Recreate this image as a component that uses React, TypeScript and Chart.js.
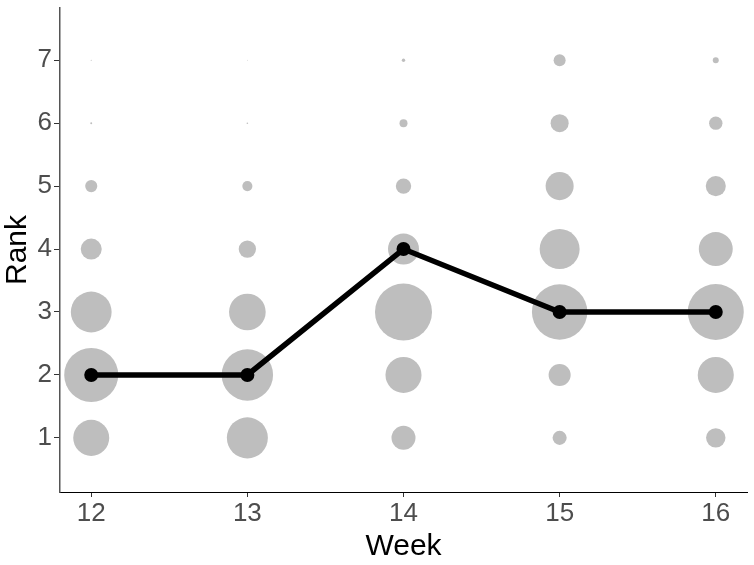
import React, { useEffect, useRef } from "react";
import { Chart, registerables } from "chart.js";

Chart.register(...registerables);

const weeks = [12, 13, 14, 15, 16];
const ranks = [1, 2, 3, 4, 5, 6, 7];
// share (%) of each rank per week, cols = ranks 1..7
const share12 = [20.3, 45.6, 26.0, 6.9, 2.3, 0.06, 0.02];
const share13 = [26.3, 41.3, 21.0, 4.7, 1.6, 0.04, 0.01];
const share14 = [9.0, 20.3, 50.8, 15.0, 3.7, 1.0, 0.18];
const share15 = [3.1, 7.6, 48.0, 25.0, 12.3, 5.1, 2.25];
const share16 = [5.9, 20.3, 49.0, 18.0, 6.3, 2.8, 0.56];
const shares = [share12, share13, share14, share15, share16];
const medianRank = [2, 2, 4, 3, 3];
const xTicks = [12, 13, 14, 15, 16];
const yTicks = [1, 2, 3, 4, 5, 6, 7];

export default function App() {
  const ref = useRef<HTMLCanvasElement>(null);
  useEffect(() => {
    if (!ref.current) return;
    const bubbles: { x: number; y: number; r: number }[] = [];
    weeks.forEach((w, i) => {
      ranks.forEach((rk, j) => {
        bubbles.push({ x: w, y: rk, r: 4 * Math.sqrt(shares[i][j]) });
      });
    });
    const font = "'Liberation Sans', Arial, sans-serif";
    const chart = new Chart(ref.current, {
      type: "bubble",
      data: {
        datasets: [
          {
            type: "line",
            data: weeks.map((w, i) => ({ x: w, y: medianRank[i] })),
            borderColor: "#000",
            backgroundColor: "#000",
            borderWidth: 5.5,
            pointRadius: 7,
            pointHoverRadius: 7,
            pointBorderWidth: 0,
            order: 0,
          } as any,
          {
            type: "bubble",
            data: bubbles,
            backgroundColor: "#bebebe",
            borderWidth: 0,
            hoverRadius: 0,
            order: 1,
          } as any,
        ],
      },
      options: {
        animation: false,
        responsive: false,
        maintainAspectRatio: false,
        layout: { autoPadding: false, padding: { top: 8, right: 7, left: 0, bottom: 0 } },
        plugins: { legend: { display: false }, tooltip: { enabled: false } },
        scales: {
          x: {
            type: "linear",
            min: 11.8,
            max: 16.2,
            afterBuildTicks: (s: any) => {
              s.ticks = xTicks.map((v) => ({ value: v }));
            },
            afterFit: (s: any) => {
              s.height = 73;
              s.paddingLeft = 0;
              s.paddingRight = 0;
            },
            grid: {
              drawOnChartArea: false,
              drawTicks: true,
              tickLength: 5,
              tickColor: "#333",
              tickWidth: 1,
            },
            border: { display: true, color: "#000", width: 1 },
            ticks: {
              padding: 1,
              color: "#4d4d4d",
              font: { family: font, size: 26 },
              maxRotation: 0,
            },
            title: {
              display: true,
              text: "Week",
              color: "#000",
              font: { family: font, size: 30 },
              padding: { top: 0, bottom: 0 },
            },
          },
          y: {
            type: "linear",
            min: 0.14,
            max: 7.83,
            afterBuildTicks: (s: any) => {
              s.ticks = yTicks.map((v) => ({ value: v }));
            },
            afterFit: (s: any) => {
              s.width = 60;
              s.paddingTop = 0;
              s.paddingBottom = 0;
            },
            grid: {
              drawOnChartArea: false,
              drawTicks: true,
              tickLength: 6,
              tickColor: "#333",
              tickWidth: 1,
            },
            border: { display: true, color: "#555", width: 1.5 },
            ticks: {
              padding: 2,
              color: "#4d4d4d",
              font: { family: font, size: 26 },
            },
            title: {
              display: true,
              text: "Rank",
              color: "#000",
              font: { family: font, size: 30 },
              padding: { top: 0, bottom: 0 },
            },
          },
        },
      },
    });
    return () => chart.destroy();
  }, []);
  return (
    <div style={{ position: "fixed", left: 0, top: 0, width: 754, height: 565, background: "#fff" }}>
      <canvas ref={ref} width={754} height={565} style={{ width: 754, height: 565 }} />
    </div>
  );
}
